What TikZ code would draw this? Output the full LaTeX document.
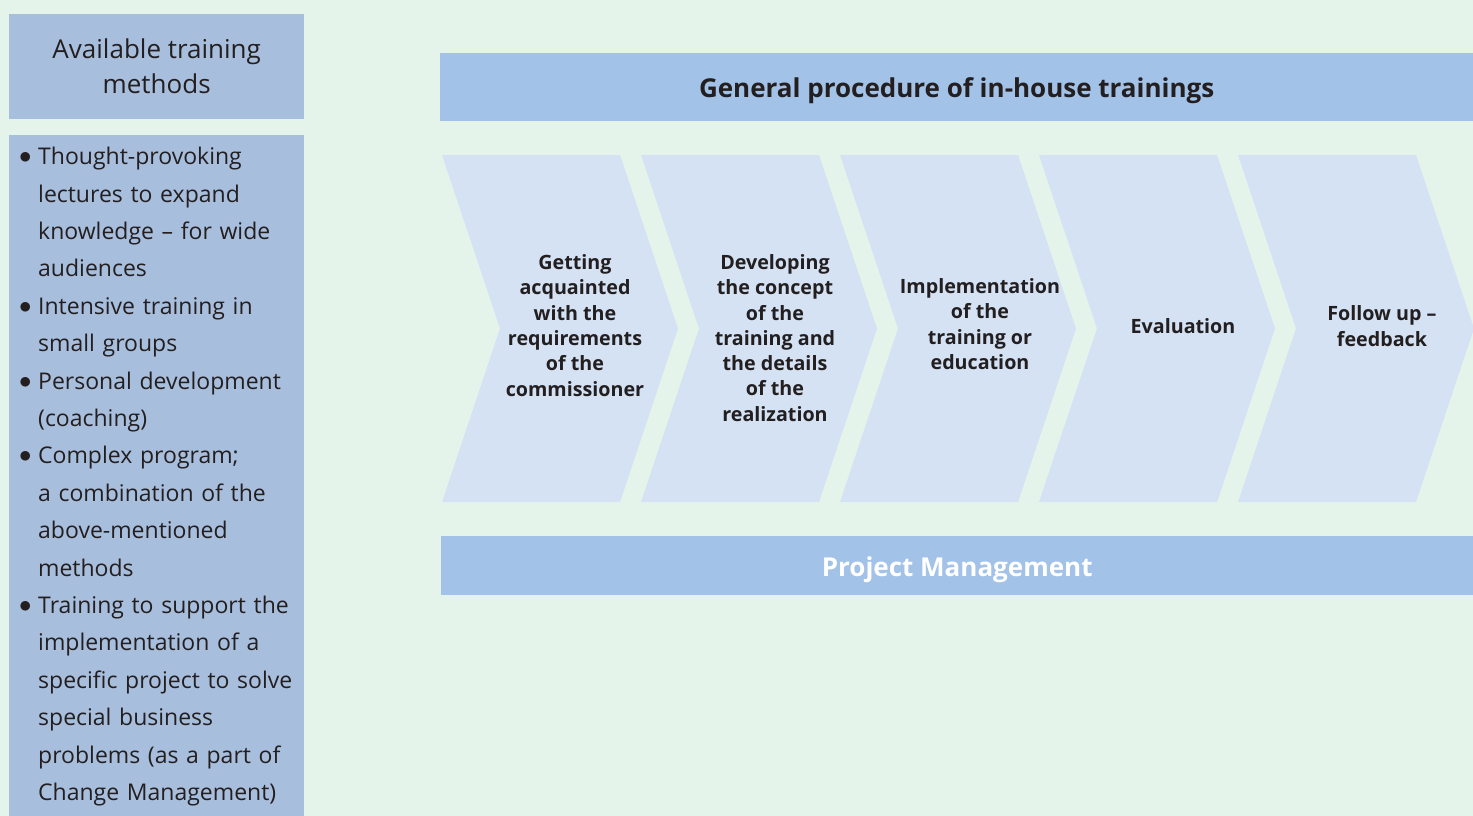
\documentclass[tikz,border=0pt]{standalone}
\usepackage{fontspec}
\setmainfont{Open Sans}
\usetikzlibrary{positioning}
\definecolor{mintbg}{HTML}{E4F4EA}
\definecolor{methodblue}{HTML}{A8BEDD}
\definecolor{barblue}{HTML}{A3C2E7}
\definecolor{chevblue}{HTML}{D4E2F3}
\definecolor{textdark}{HTML}{231F20}
\newcommand{\mbul}{\raisebox{1pt}{$\bullet$}}

\begin{document}
\begin{tikzpicture}[
    x=1pt, y=-1pt,
    methodbox/.style={rectangle, fill=methodblue, anchor=north west, minimum width=295pt, text=textdark},
    bar/.style={rectangle, fill=barblue, anchor=north west, text depth=6pt, font=\bfseries\fontsize{26}{30}\selectfont},
    steptext/.style={text=textdark, align=center, font=\bfseries\fontsize{19.7}{25.3}\selectfont},
    chevron/.style={fill=chevblue}
]

% Background and size
\fill[mintbg] (0,0) rectangle (1473,816);
\useasboundingbox (0,0) rectangle (1473,816);

% Training methods on the left
\node[methodbox, minimum height=105pt, align=center, font=\fontsize{26}{35}\selectfont] (mhead) at (9,14) {Available training\\methods};
\node[methodbox, minimum height=681pt, inner xsep=10pt, text width=275pt, align=left, font=\fontsize{23}{37.4}\selectfont] (mlist) at (9,135) {%
\begin{tabular}{@{}p{19pt}@{}l@{}}
\mbul & Thought-provoking\\
 & lectures to expand\\
 & knowledge -- for wide\\
 & audiences\\
\mbul & Intensive training in\\
 & small groups\\
\mbul & Personal development\\
 & (coaching)\\
\mbul & Complex program;\\
 & a combination of the\\
 & above-mentioned\\
 & methods\\
\mbul & Training to support the\\
 & implementation of a\\
 & specific project to solve\\
 & special business\\
 & problems (as a part of\\
 & Change Management)\\[5pt]
\end{tabular}};

% Procedure header
\node[bar, minimum width=1033pt, minimum height=68pt, text height=26pt, text=textdark] (procbar) at (440,53) {General procedure of in-house trainings};

% Steps
\foreach \i in {0,...,4}{
  \fill[chevron] ({442+199*\i},155) -- ++(178,0) -- ++(58,173.5) -- ++(-58,173.5) -- ++(-178,0) -- ++(58,-173.5) -- cycle;
}
\node[steptext] (step1) at (575,325.5) {Getting\\acquainted\\with the\\requirements\\of the\\commissioner};
\node[steptext] (step2) at (775,338) {Developing\\the concept\\of the\\training and\\the details\\of the\\realization};
\node[steptext] (step3) at (980,324) {Implementation\\of the\\training or\\education};
\node[steptext] (step4) at (1183,326) {Evaluation};
\node[steptext] (step5) at (1382,326) {Follow up --\\feedback};

% Project management bar
\node[bar, minimum width=1032pt, minimum height=59pt, text height=28pt, text=white] (pmbar) at (441,536) {Project Management};

\end{tikzpicture}
\end{document}
